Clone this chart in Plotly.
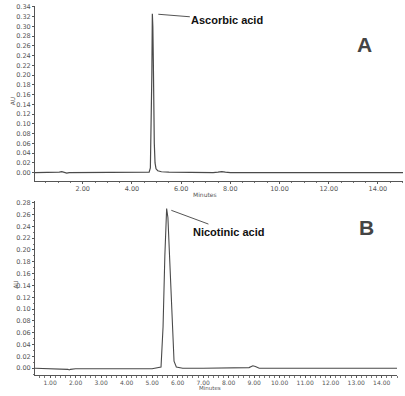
import plotly.graph_objects as go

# Panel A: ascorbic acid chromatogram (time in minutes, absorbance in AU)
time_a = [0.06, 0.8, 1.05, 1.15, 1.25, 1.35, 1.45, 1.7, 3.0, 4.5, 4.7, 4.75, 4.77, 4.79, 4.81,
          4.83, 4.85, 4.87, 4.89, 4.91, 4.94, 4.98, 5.05, 5.2, 5.5, 6.5, 7.3, 7.5, 7.65, 7.8,
          8.0, 10.0, 12.0, 15.02]
au_a = [0.000, 0.000, 0.001, 0.002, 0.001, -0.001, 0.000, 0.000, 0.000, 0.000, 0.001, 0.010,
        0.060, 0.175, 0.200, 0.326, 0.300, 0.230, 0.120, 0.060, 0.020, 0.008, 0.004, 0.002,
        0.001, 0.000, 0.000, 0.001, 0.002, 0.001, 0.000, 0.000, 0.000, 0.000]

# Panel B: nicotinic acid chromatogram
time_b = [0.41, 1.0, 1.5, 1.7, 1.75, 1.8, 2.0, 3.0, 4.0, 5.0, 5.35, 5.43, 5.5, 5.57, 5.62,
          5.7, 5.78, 5.86, 5.95, 6.2, 7.0, 7.4, 8.0, 8.8, 8.95, 9.05, 9.2, 10.0, 12.0, 13.0, 14.6]
au_b = [0.000, -0.001, -0.001, -0.002, -0.003, -0.002, -0.001, -0.001, -0.001, -0.001, 0.002,
        0.070, 0.190, 0.270, 0.255, 0.170, 0.070, 0.012, 0.002, 0.000, 0.000, 0.000, 0.000,
        0.001, 0.004, 0.003, 0.000, 0.000, 0.000, 0.000, 0.000]

peak_names = ["Ascorbic acid", "Nicotinic acid"]
panel_letters = ["A", "B"]
x_title = "Minutes"
y_title = "AU"

W, H = 405, 396
def px(x):
    return x / W
def py(y):
    return 1 - y / H

line_col = "#4a4a4a"
tick_font = dict(family="DejaVu Sans", size=6.5, color="#555555")
tick_font_b = dict(family="DejaVu Sans", size=6, color="#555555")

fig = go.Figure()
fig.add_trace(go.Scatter(x=time_a, y=au_a, mode="lines", line=dict(color=line_col, width=1.2),
                         xaxis="x", yaxis="y", showlegend=False))
fig.add_trace(go.Scatter(x=time_b, y=au_b, mode="lines", line=dict(color=line_col, width=1.1),
                         xaxis="x2", yaxis="y2", showlegend=False))

axis_common = dict(showgrid=False, zeroline=False, showline=True, linecolor="#555555", linewidth=1,
                   ticks="outside", ticklen=2, tickcolor="#555555",
                   tickformat=".2f")

fig.update_layout(
    width=W, height=H, margin=dict(l=0, r=0, t=0, b=0),
    paper_bgcolor="white", plot_bgcolor="white",
    xaxis=dict(domain=[px(35), px(403)], anchor="y", range=[0.06, 15.02], tick0=0, dtick=2,
               minor=dict(dtick=0.5, ticks="outside", ticklen=1.5, tickcolor="#777777"),
               tickfont=tick_font, **axis_common),
    yaxis=dict(domain=[py(179), py(3)], anchor="x", range=[-0.0163, 0.342], tick0=0, dtick=0.02,
               tickfont=tick_font, **axis_common),
    xaxis2=dict(domain=[px(35), px(397)], anchor="y2", range=[0.41, 14.6], tick0=0, dtick=1,
                minor=dict(dtick=0.2, ticks="outside", ticklen=1.5, tickcolor="#777777"),
                tickfont=tick_font_b, **axis_common),
    yaxis2=dict(domain=[py(375), py(200)], anchor="x2", range=[-0.0118, 0.282], tick0=0, dtick=0.02,
                minor=dict(dtick=0.01, ticks="outside", ticklen=1.5, tickcolor="#777777"),
                tickfont=tick_font, **axis_common),
)

ia = au_a.index(max(au_a))
ib = au_b.index(max(au_b))
label_font = dict(family="Liberation Sans", size=11, color="#111111")
fig.add_annotation(x=time_a[ia], y=au_a[ia], xref="x", yref="y", text="<b>" + peak_names[0] + "</b>",
                   showarrow=True, arrowhead=0, arrowwidth=1, arrowcolor="#555555", ax=75, ay=6,
                   standoff=6, font=label_font)
fig.add_annotation(x=time_b[ib], y=au_b[ib], xref="x2", yref="y2", text="<b>" + peak_names[1] + "</b>",
                   showarrow=True, arrowhead=0, arrowwidth=1, arrowcolor="#555555", ax=62, ay=23,
                   standoff=5, font=label_font)

letter_font = dict(family="Liberation Sans", size=21, color="#444444")
fig.add_annotation(x=px(374), y=py(28), xref="paper", yref="paper", text="<b>" + panel_letters[0] + "</b>",
                   showarrow=False, font=letter_font)
fig.add_annotation(x=px(376), y=py(226), xref="paper", yref="paper", text="<b>" + panel_letters[1] + "</b>",
                   showarrow=False, font=letter_font)

small_font = dict(family="DejaVu Sans", size=6, color="#555555")
fig.add_annotation(x=px(7), y=py(92), xref="paper", yref="paper", text=y_title, textangle=-90,
                   showarrow=False, font=small_font)
fig.add_annotation(x=px(10), y=py(290), xref="paper", yref="paper", text=y_title, textangle=-90,
                   showarrow=False, font=small_font)
fig.add_annotation(x=px(205), y=py(192.5), xref="paper", yref="paper", text=x_title,
                   showarrow=False, font=small_font)
fig.add_annotation(x=px(210), y=py(392.5), xref="paper", yref="paper", text=x_title,
                   showarrow=False, font=dict(family="DejaVu Sans", size=5.5, color="#555555"))

fig.write_html("out.html")
